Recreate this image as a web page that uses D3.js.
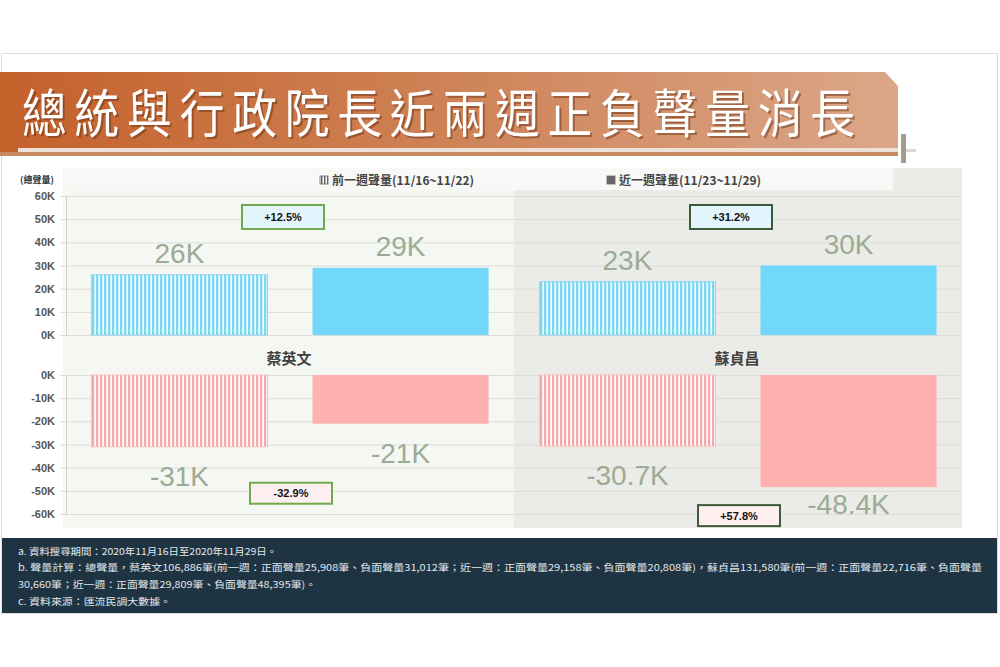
<!DOCTYPE html>
<html>
<head>
<meta charset="utf-8">
<script src="https://cdn.jsdelivr.net/npm/d3@7"></script>
<style>
  html, body { margin: 0; padding: 0; background: #ffffff; }
  svg { display: block; }
</style>
</head>
<body>
<svg id="chart" width="1000" height="667"></svg>
<script>
// ---------------- data ----------------
const title = "總統與行政院長近兩週正負聲量消長";
const categories = ["蔡英文", "蘇貞昌"];
const seriesKeys = ["prev", "curr"];
const seriesNames = ["前一週聲量(11/16~11/22)", "近一週聲量(11/23~11/29)"];
const positivePrev = [26, 23];
const positiveCurr = [29, 30];
const negativePrev = [-31, -30.7];
const negativeCurr = [-21, -48.4];
const positiveChange = ["+12.5%", "+31.2%"];
const negativeChange = ["-32.9%", "+57.8%"];
const topTicks = [0, 10, 20, 30, 40, 50, 60];
const bottomTicks = [0, -10, -20, -30, -40, -50, -60];
const yUnitLabel = "(總聲量)";
const footnotes = [
  "a. 資料搜尋期間：2020年11月16日至2020年11月29日。",
  "b. 聲量計算：總聲量，蔡英文106,886筆(前一週：正面聲量25,908筆、負面聲量31,012筆；近一週：正面聲量29,158筆、負面聲量20,808筆)，蘇貞昌131,580筆(前一週：正面聲量22,716筆、負面聲量",
  "30,660筆；近一週：正面聲量29,809筆、負面聲量48,395筆)。",
  "c. 資料來源：匯流民調大數據。"
];

// ---------------- setup ----------------
const svg = d3.select("#chart");
const CJK = "'Noto Sans CJK TC', 'Noto Sans', sans-serif";
const LAT = "'Liberation Sans', Arial, sans-serif";

const defs = svg.append("defs");
const grad = defs.append("linearGradient").attr("id", "banner").attr("x1", 0).attr("x2", 1).attr("y1", 0).attr("y2", 0);
grad.append("stop").attr("offset", "0%").attr("stop-color", "#c4612b");
grad.append("stop").attr("offset", "45%").attr("stop-color", "#cd7f52");
grad.append("stop").attr("offset", "100%").attr("stop-color", "#dba789");

function stripePattern(id, color, w, sw) {
  const p = defs.append("pattern").attr("id", id).attr("patternUnits", "userSpaceOnUse")
    .attr("width", w).attr("height", 10);
  p.append("rect").attr("width", w).attr("height", 10).attr("fill", "#ffffff");
  p.append("rect").attr("width", sw).attr("height", 10).attr("fill", color);
}
stripePattern("hatchBlue", "#7dd6f2", 4, 2.4);
stripePattern("hatchPink", "#f7a9a9", 4, 2.2);
stripePattern("hatchGray", "#666666", 3, 1.5);

// ---------------- card & banner ----------------
svg.append("rect").attr("x", 1.5).attr("y", 53.5).attr("width", 996).attr("height", 560)
  .attr("fill", "#ffffff").attr("stroke", "#dcdcdc");

svg.append("path")
  .attr("d", "M0,72 L885,72 L898,86 L898,156 L0,156 Z")
  .attr("fill", "url(#banner)");
svg.append("rect").attr("x", 18).attr("y", 148).attr("width", 880).attr("height", 4).attr("fill", "#eee2d8");
svg.append("rect").attr("x", 0).attr("y", 152).attr("width", 898).attr("height", 4).attr("fill", "#c98a66");
svg.append("rect").attr("x", 901).attr("y", 134).attr("width", 5).attr("height", 29).attr("fill", "#a39c88");
svg.append("rect").attr("x", 906).attr("y", 149).attr("width", 10).attr("height", 3).attr("fill", "#d8d8d8");

// title: slightly condensed glyphs with wide spacing
const titleSX = 0.86;
function titleText(dx, dy, fill, op) {
  svg.append("text")
    .attr("transform", `translate(${22 + dx},${133 + dy}) scale(${titleSX},1)`)
    .attr("font-family", CJK).attr("font-size", 52).attr("font-weight", 400)
    .attr("fill", fill).attr("opacity", op)
    .attr("textLength", 833 / titleSX).attr("lengthAdjust", "spacing")
    .text(title);
}
titleText(2, 2, "#6b3317", 0.5);
titleText(0, 0, "#ffffff", 1);

// ---------------- scales ----------------
const x = d3.scaleBand().domain(categories).range([66, 962]);
const xi = d3.scaleBand().domain(seriesKeys).range([0, x.bandwidth()])
  .paddingInner(0.2036).paddingOuter(0.115);
const yTop = d3.scaleLinear().domain([0, 60]).range([335, 196]);
const yBot = d3.scaleLinear().domain([0, -60]).range([375, 514]);

// panels
svg.append("rect").attr("x", 63).attr("y", 168).attr("width", x(categories[1]) - 63).attr("height", 360).attr("fill", "#f5f7f2");
svg.append("rect").attr("x", x(categories[1])).attr("y", 168).attr("width", x.bandwidth()).attr("height", 360).attr("fill", "#ebece7");
svg.append("rect").attr("x", 65).attr("y", 168).attr("width", 828).attr("height", 22).attr("fill", "#f8f9f6");

// gridlines
function grid(scale, ticks) {
  svg.append("g").selectAll("line").data(ticks).join("line")
    .attr("x1", 60).attr("x2", 962)
    .attr("y1", d => scale(d) + 0.5).attr("y2", d => scale(d) + 0.5)
    .attr("stroke", "#dcddd8").attr("stroke-width", 1);
}
grid(yTop, topTicks);
grid(yBot, bottomTicks);

// axes
function axis(scale, ticks) {
  const g = svg.append("g").attr("transform", "translate(66,0)")
    .call(d3.axisLeft(scale).tickValues(ticks).tickFormat(d => d + "K").tickSize(0).tickPadding(11));
  g.select(".domain").attr("stroke", "#d0d0cc");
  g.selectAll("text").attr("font-family", LAT).attr("font-size", 11).attr("font-weight", "bold").attr("fill", "#555");
}
axis(yTop, topTicks);
axis(yBot, bottomTicks);

// ---------------- bars ----------------
const posData = categories.map((c, i) => [
  { cat: c, key: "prev", v: positivePrev[i] },
  { cat: c, key: "curr", v: positiveCurr[i] }
]).flat();
const negData = categories.map((c, i) => [
  { cat: c, key: "prev", v: negativePrev[i] },
  { cat: c, key: "curr", v: negativeCurr[i] }
]).flat();

svg.append("g").selectAll("rect").data(posData).join("rect")
  .attr("x", d => x(d.cat) + xi(d.key))
  .attr("width", xi.bandwidth())
  .attr("y", d => yTop(d.v))
  .attr("height", d => yTop(0) - yTop(d.v))
  .attr("fill", d => d.key === "prev" ? "url(#hatchBlue)" : "#72d8fb")
  .attr("stroke", d => d.key === "prev" ? "#8fd8f0" : "none");

svg.append("g").selectAll("rect").data(negData).join("rect")
  .attr("x", d => x(d.cat) + xi(d.key))
  .attr("width", xi.bandwidth())
  .attr("y", yBot(0))
  .attr("height", d => yBot(d.v) - yBot(0))
  .attr("fill", d => d.key === "prev" ? "url(#hatchPink)" : "#ffb1b1")
  .attr("stroke", d => d.key === "prev" ? "#f8c0c0" : "none");

// value labels
svg.append("g").selectAll("text").data(posData).join("text")
  .attr("x", d => x(d.cat) + xi(d.key) + xi.bandwidth() / 2)
  .attr("y", d => yTop(d.v) - 12)
  .attr("text-anchor", "middle")
  .attr("font-family", LAT).attr("font-size", 28).attr("fill", "#9cab96")
  .text(d => d.v + "K");

svg.append("g").selectAll("text").data(negData).join("text")
  .attr("x", d => x(d.cat) + xi(d.key) + xi.bandwidth() / 2)
  .attr("y", d => Math.min(yBot(d.v) + 39, yBot(-60)))
  .attr("text-anchor", "middle")
  .attr("font-family", LAT).attr("font-size", 28).attr("fill", "#9cab96")
  .text(d => d.v + "K");

// category labels
svg.append("g").selectAll("text").data(categories).join("text")
  .attr("x", d => x(d) + x.bandwidth() / 2 - 1)
  .attr("y", 364)
  .attr("text-anchor", "middle")
  .attr("font-family", CJK).attr("font-size", 15).attr("font-weight", "bold").attr("fill", "#404040")
  .text(d => d);

// change boxes
const borderColors = ["#72a94e", "#3d5a3a"];
function changeBox(i, label, cx, yTopEdge, h, fill) {
  const g = svg.append("g");
  g.append("rect").attr("x", cx - 41).attr("y", yTopEdge).attr("width", 82).attr("height", h)
    .attr("fill", fill).attr("stroke", borderColors[i]).attr("stroke-width", 2);
  g.append("text").attr("x", cx).attr("y", yTopEdge + h / 2 + 4).attr("text-anchor", "middle")
    .attr("font-family", LAT).attr("font-size", 11).attr("font-weight", "bold").attr("fill", "#111")
    .text(label);
}
categories.forEach((c, i) => {
  const cx = x(c) + x.bandwidth() / 2;
  changeBox(i, positiveChange[i], cx - 7, yTop(60) + 9, 24, "#e2f5fd");
  const minV = Math.min(negativePrev[i], negativeCurr[i]);
  changeBox(i, negativeChange[i], cx + 1, Math.max(yBot(-46.5), yBot(minV) + 18), 21, "#fdefef");
});

// legend
svg.append("text").attr("x", 20).attr("y", 183)
  .attr("font-family", CJK).attr("font-size", 9).attr("font-weight", "bold").attr("fill", "#333")
  .text(yUnitLabel);
const legendX = [320, 607];
seriesNames.forEach((s, i) => {
  svg.append("rect").attr("x", legendX[i]).attr("y", 176).attr("width", 8).attr("height", 8)
    .attr("fill", i === 0 ? "url(#hatchGray)" : "#666").attr("stroke", "#666").attr("stroke-width", 0.8);
  svg.append("text").attr("x", legendX[i] + 12).attr("y", 184.5)
    .attr("font-family", CJK).attr("font-size", 12).attr("font-weight", "bold").attr("fill", "#444")
    .text(s);
});

// ---------------- footnotes ----------------
svg.append("rect").attr("x", 2).attr("y", 538).attr("width", 995).attr("height", 75).attr("fill", "#1f3443");
const noteY = [555, 571, 588, 605];
const noteLen = [259, 964, 298, 153];
footnotes.forEach((t, i) => {
  svg.append("text").attr("x", 18).attr("y", noteY[i])
    .attr("font-family", CJK).attr("font-size", 9.5).attr("fill", "#e3e8ec")
    .attr("textLength", noteLen[i]).attr("lengthAdjust", "spacingAndGlyphs")
    .text(t);
});
</script>
</body>
</html>
